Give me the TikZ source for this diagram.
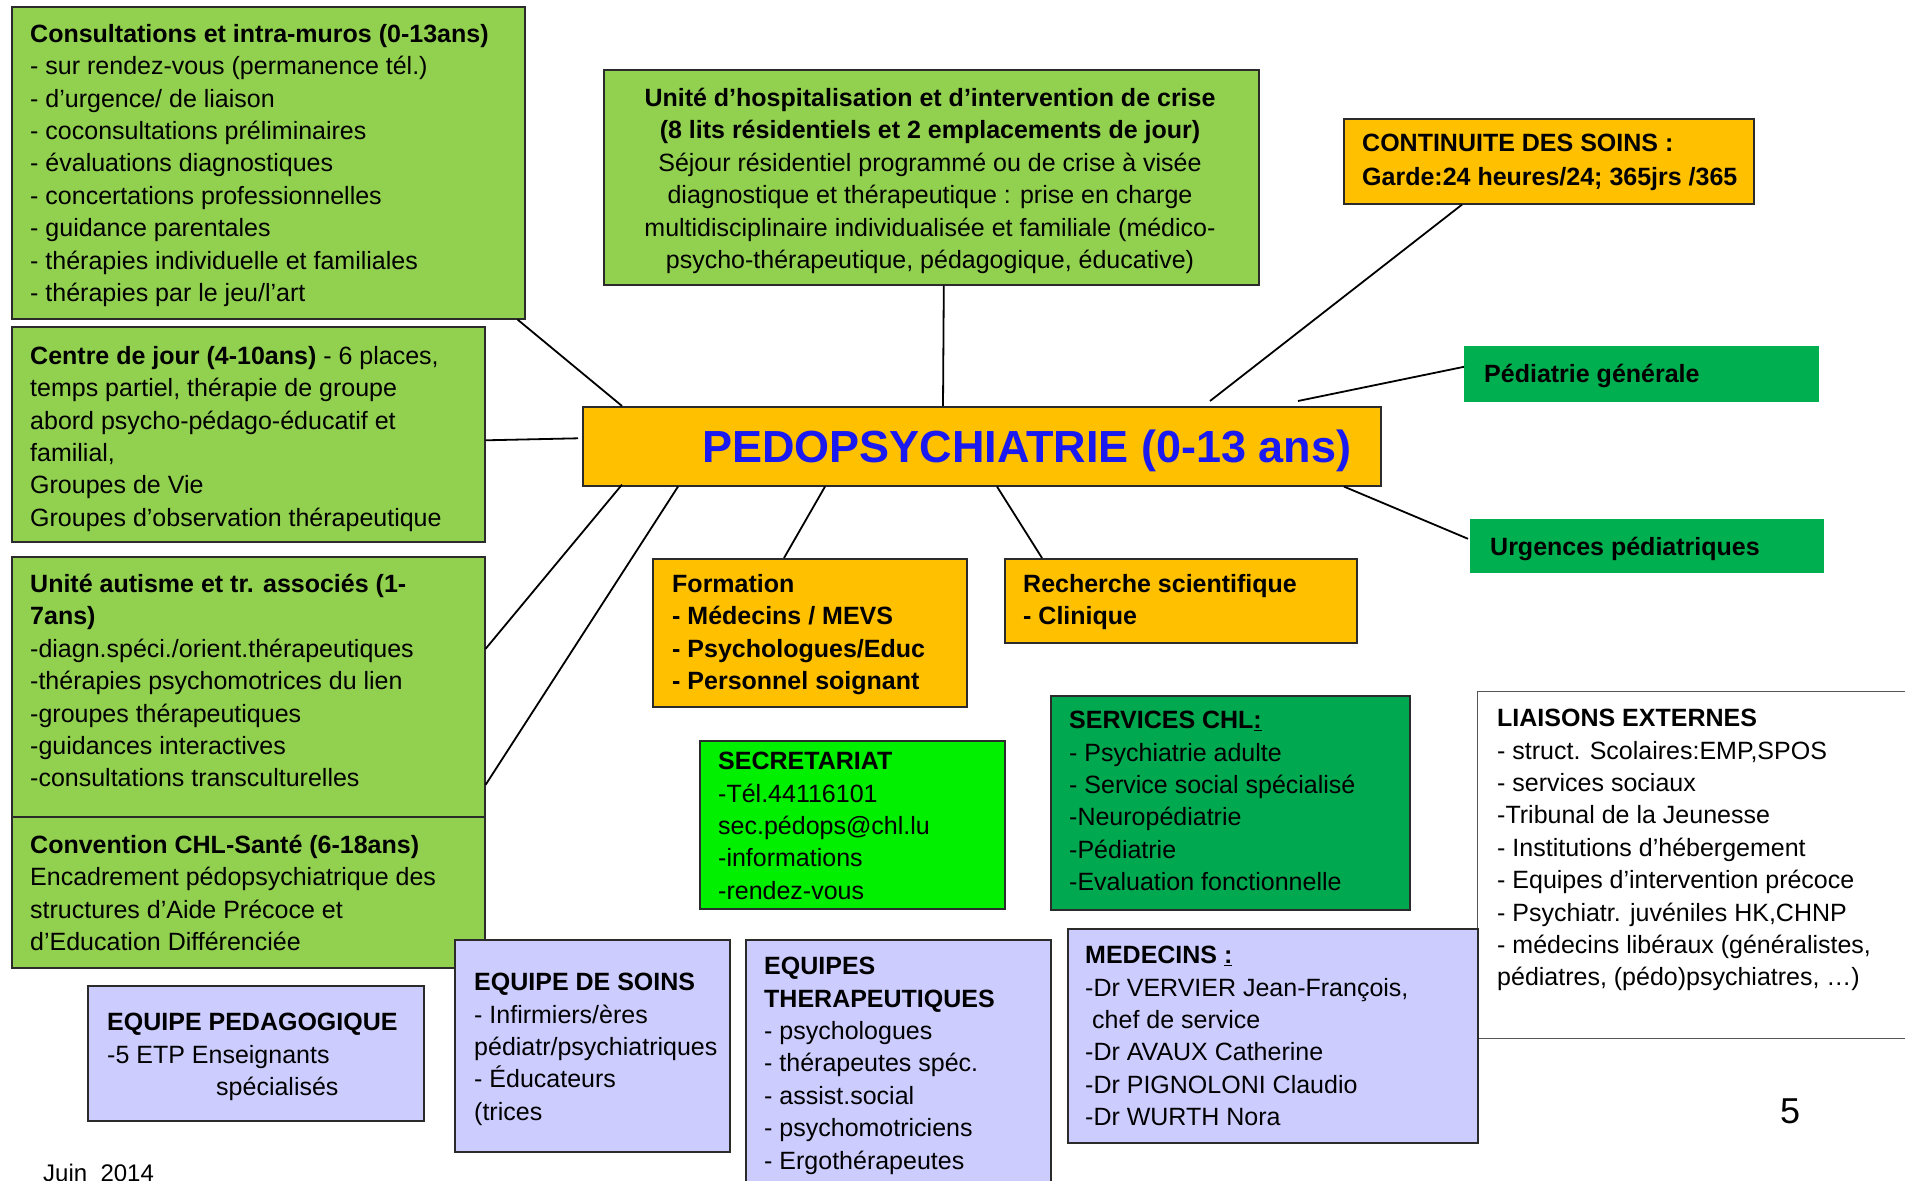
\documentclass[tikz,border=0pt]{standalone}
\usepackage{fontspec}
\setmainfont{Liberation Sans}
\usetikzlibrary{calc}

\definecolor{lgreen}{HTML}{92D050}
\definecolor{amber}{HTML}{FFC000}
\definecolor{dgreen}{HTML}{00B050}
\definecolor{sgreen}{HTML}{00A84F}
\definecolor{vgreen}{HTML}{00F000}
\definecolor{lav}{HTML}{CCCCFF}
\definecolor{tblue}{HTML}{1A1AF0}
\definecolor{edge}{HTML}{2B2B2B}

\newcommand\bodysize{\fontsize{25}{32.4}\selectfont}

\begin{document}
\begin{tikzpicture}[x=1pt,y=-1pt,
  box/.style={draw=edge, line width=1.6pt, anchor=north west, inner sep=0pt},
  txt/.style={anchor=north west, inner sep=0pt, align=left, font=\bodysize,
              execute at begin node=\strut},
  link/.style={draw=black, line width=1.8pt}]

\path[use as bounding box, fill=white] (0,0) rectangle (1905,1180);

% --- boxes ---
\node[box, fill=lgreen, minimum width=513, minimum height=312] (consult) at (11,6) {};
\node[box, fill=lgreen, minimum width=473, minimum height=215] (cdj) at (11,326) {};
\node[box, fill=lgreen, minimum width=473, minimum height=260] (aut) at (11,556) {};
\node[box, fill=lgreen, minimum width=473, minimum height=151] (conv) at (11,816) {};
\node[box, fill=lgreen, minimum width=655, minimum height=215] (hosp) at (603,69) {};
\node[box, fill=amber, minimum width=410, minimum height=85] (cont) at (1343,118) {};
\node[box, draw=dgreen, fill=dgreen, line width=0.6pt, minimum width=354, minimum height=55] (pedgen) at (1464,346) {};
\node[box, draw=dgreen, fill=dgreen, line width=0.6pt, minimum width=353, minimum height=53] (urg) at (1470,519) {};
\node[box, fill=amber, minimum width=798, minimum height=79] (pedo) at (582,406) {};
\node[box, fill=amber, minimum width=314, minimum height=148] (form) at (652,558) {};
\node[box, fill=amber, minimum width=352, minimum height=84] (rech) at (1004,558) {};
\node[box, fill=vgreen, minimum width=305, minimum height=168] (sec) at (699,740) {};
\node[box, fill=sgreen, minimum width=359, minimum height=214] (serv) at (1050,695) {};
\node[box, draw=edge!80, fill=white, line width=1.2pt, minimum width=440, minimum height=347] (liais) at (1477,691) {};
\node[box, fill=lav, minimum width=410, minimum height=214] (med) at (1067,928) {};
\node[box, fill=lav, minimum width=336, minimum height=135] (peda) at (87,985) {};
\node[box, fill=lav, minimum width=275, minimum height=212] (soins) at (454,939) {};
\node[box, fill=lav, minimum width=305, minimum height=260] (therap) at (745,939) {};

% --- connectors to the central box ---
\draw[link] ($(consult.south east)+(-8,0)$) -- ($(pedo.north west)+(40,0)$);
\draw[link] ($(cdj.east)+(0,6)$) -- ($(pedo.west)+(-4,-8)$);
\draw[link] ($(aut.east)+(0,-38)$) -- ($(pedo.south west)+(40,-2)$);
\draw[link] ($(aut.east)+(0,98)$) -- ($(pedo.south west)+(96,0)$);
\draw[link] ($(hosp.south)+(12.5,0)$) -- ($(pedo.north west)+(361,0)$);
\draw[link] ($(cont.south west)+(119,0)$) -- ($(pedo.north west)+(628,-5)$);
\draw[link] ($(pedgen.west)+(0,-7)$) -- ($(pedo.north west)+(716,-5)$);
\draw[link] ($(urg.west)+(-2,-7)$) -- ($(pedo.south west)+(762,0)$);
\draw[link] ($(form.north west)+(132,0)$) -- ($(pedo.south west)+(243,0)$);
\draw[link] ($(rech.north west)+(38,0)$) -- ($(pedo.south west)+(415,0)$);

% --- texts ---
\node[txt] (consult-t) at (30,24) {\textbf{Consultations et intra-muros (0-13ans)}\\
- sur rendez-vous (permanence tél.)\\
- d’urgence/ de liaison\\
- coconsultations préliminaires\\
- évaluations diagnostiques\\
- concertations professionnelles\\
- guidance parentales\\
- thérapies individuelle et familiales\\
- thérapies par le jeu/l’art};

\node[txt] (cdj-t) at (30,346) {\textbf{Centre de jour (4-10ans)} - 6 places,\\
temps partiel, thérapie de groupe\\
abord psycho-pédago-éducatif et\\
familial,\\
Groupes de Vie\\
Groupes d’observation thérapeutique};

\node[txt] (aut-t) at (30,574) {\textbf{Unité autisme et tr. associés (1-}\\
\textbf{7ans)}\\
-diagn.spéci./orient.thérapeutiques\\
-thérapies psychomotrices du lien\\
-groupes thérapeutiques\\
-guidances interactives\\
-consultations transculturelles};

\node[txt] (conv-t) at (30,835) {\textbf{Convention CHL-Santé (6-18ans)}\\
Encadrement pédopsychiatrique des\\
structures d’Aide Précoce et\\
d’Education Différenciée};

\node[txt, anchor=north, align=center] (hosp-t) at (930,88) {\textbf{Unité d’hospitalisation et d’intervention de crise}\\
\textbf{(8 lits résidentiels et 2 emplacements de jour)}\\
Séjour résidentiel programmé ou de crise à visée\\
diagnostique et thérapeutique : prise en charge\\
multidisciplinaire individualisée et familiale (médico-\\
psycho-thérapeutique, pédagogique, éducative)};

\node[txt] (cont-t) at (1362,134) {\textbf{CONTINUITE DES SOINS :}\\[1.6pt]
\textbf{Garde:24 heures/24; 365jrs /365}};

\node[txt] (pedgen-t) at (1484,360) {\textbf{Pédiatrie générale}};
\node[txt] (urg-t) at (1490,533) {\textbf{Urgences pédiatriques}};

\node[anchor=base west, inner sep=0pt, text=tblue, font=\fontsize{45}{54}\selectfont\bfseries]
  (pedo-t) at (702,462) {PEDOPSYCHIATRIE (0-13 ans)};

\node[txt] (form-t) at (672,574) {\textbf{Formation}\\
\textbf{- Médecins / MEVS}\\
\textbf{- Psychologues/Educ}\\
\textbf{- Personnel soignant}};

\node[txt] (rech-t) at (1023,574) {\textbf{Recherche scientifique}\\
\textbf{- Clinique}};

\node[txt] (sec-t) at (718,752) {\textbf{SECRETARIAT}\\
-Tél.44116101\\
sec.pédops@chl.lu\\
-informations\\
-rendez-vous};

\node[txt] (serv-t) at (1069,711) {\textbf{SERVICES CHL\underline{:}}\\
- Psychiatrie adulte\\
- Service social spécialisé\\
-Neuropédiatrie\\
-Pédiatrie\\
-Evaluation fonctionnelle};

\node[txt] (liais-t) at (1497,709) {\textbf{LIAISONS EXTERNES}\\
- struct. Scolaires:EMP,SPOS\\
- services sociaux\\
-Tribunal de la Jeunesse\\
- Institutions d’hébergement\\
- Equipes d’intervention précoce\\
- Psychiatr. juvéniles HK,CHNP\\
- médecins libéraux (généralistes,\\
pédiatres, (pédo)psychiatres, …)};

\node[txt] (med-t) at (1085,946) {\textbf{MEDECINS \underline{:}}\\
-Dr VERVIER Jean-François,\\
\hspace*{7pt}chef de service\\
-Dr AVAUX Catherine\\
-Dr PIGNOLONI Claudio\\
-Dr WURTH Nora};

\node[txt] (peda-t) at (107,1013) {\textbf{EQUIPE PEDAGOGIQUE}\\
-5 ETP Enseignants\\
\hspace*{109pt}spécialisés};

\node[txt] (soins-t) at (474,973) {\textbf{EQUIPE DE SOINS}\\
- Infirmiers/ères\\
pédiatr/psychiatriques\\
- Éducateurs\\
(trices};

\node[txt] (therap-t) at (764,957) {\textbf{EQUIPES}\\
\textbf{THERAPEUTIQUES}\\
- psychologues\\
- thérapeutes spéc.\\
- assist.social\\
- psychomotriciens\\
- Ergothérapeutes};

\node[anchor=base west, inner sep=0pt, font=\fontsize{24}{28}\selectfont] (date) at (43,1181) {Juin\ \ 2014};
\node[anchor=base west, inner sep=0pt, font=\fontsize{36}{40}\selectfont] (page) at (1780,1123) {5};

\end{tikzpicture}
\end{document}
